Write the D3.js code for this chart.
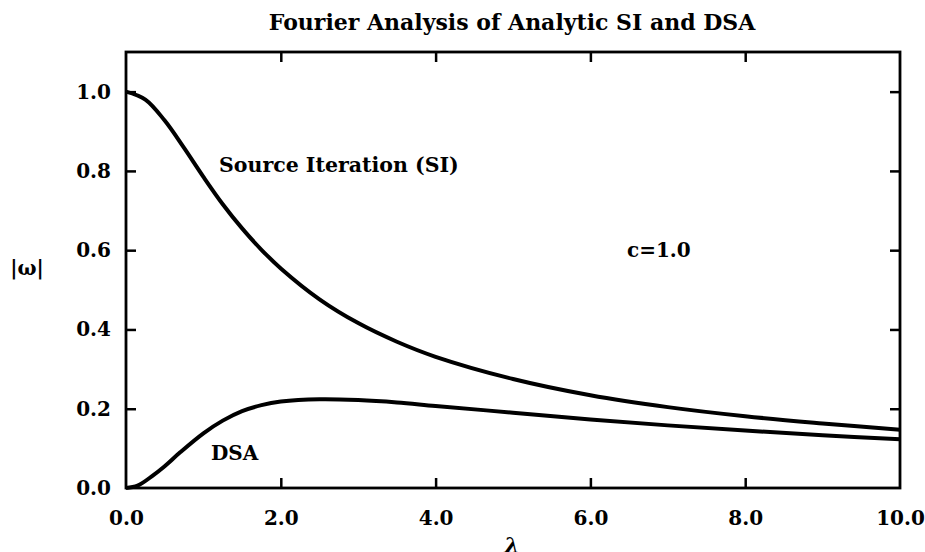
<!DOCTYPE html>
<html>
<head>
<meta charset="utf-8">
<script src="https://cdn.jsdelivr.net/npm/d3@7"></script>
<style>
    body { margin: 0; background: #fff; }
    text { font-family: "DejaVu Serif", serif; font-weight: bold; fill: #000; }
</style>
</head>
<body>
<svg id="chart"></svg>
<script>
// 横轴 λ
var lambdaSI = [0, 0.25, 0.5, 0.75, 1.0, 1.25, 1.5, 1.75, 2.0, 2.5, 3.0, 3.5, 4.0, 5.0, 6.0, 7.0, 8.0, 9.0, 10.0];
// Source Iteration |ω|
var omegaSI = [1.0, 0.98, 0.927, 0.858, 0.785, 0.716, 0.655, 0.601, 0.554, 0.476, 0.416, 0.369, 0.331, 0.275, 0.234, 0.204, 0.181, 0.163, 0.147];
var lambdaDSA = [0, 0.15, 0.35, 0.5, 0.7, 1.0, 1.25, 1.5, 1.75, 2.0, 2.5, 3.0, 3.5, 4.0, 5.0, 6.0, 7.0, 8.0, 9.0, 10.0];
// DSA |ω|
var omegaDSA = [0, 0.006, 0.032, 0.055, 0.09, 0.138, 0.17, 0.194, 0.209, 0.218, 0.224, 0.222, 0.216, 0.207, 0.19, 0.173, 0.158, 0.145, 0.133, 0.123];
// 刻度
var xTicks = [0, 2, 4, 6, 8, 10];
var yTicks = [0, 0.2, 0.4, 0.6, 0.8, 1.0];

var width = 925, height = 552;
var margin = {left: 126, right: 25, top: 52, bottom: 64};

var svg = d3.select('#chart').attr('width', width).attr('height', height);

// 比例尺
var x = d3.scaleLinear().domain([0, 10]).range([margin.left, width - margin.right]);
var y = d3.scaleLinear().domain([0, 1.1]).range([height - margin.bottom, margin.top]);

var fmt = d3.format('.1f');
var tickLen = 10;

// 四边坐标轴, 刻度朝内
var innerX = xTicks.filter(function(d) { return d > 0 && d < 10; });
var innerY = yTicks.filter(function(d) { return d > 0; });

function styleAxis(g) {
    g.select('.domain').remove();
    g.selectAll('line').attr('stroke', '#000').attr('stroke-width', 2.5);
    g.selectAll('text').style('font-size', '20px');
}

svg.append('g')
    .attr('transform', 'translate(0,' + y(0) + ')')
    .call(d3.axisBottom(x).tickValues(xTicks).tickFormat(fmt).tickSize(0).tickPadding(23))
    .call(styleAxis);
svg.append('g')
    .attr('transform', 'translate(0,' + y(0) + ')')
    .call(d3.axisBottom(x).tickValues(innerX).tickFormat('').tickSize(-tickLen))
    .call(styleAxis);
svg.append('g')
    .attr('transform', 'translate(0,' + y(1.1) + ')')
    .call(d3.axisTop(x).tickValues(innerX).tickFormat('').tickSize(-tickLen))
    .call(styleAxis);
svg.append('g')
    .attr('transform', 'translate(' + x(0) + ',0)')
    .call(d3.axisLeft(y).tickValues(yTicks).tickFormat(fmt).tickSize(0).tickPadding(15))
    .call(styleAxis);
svg.append('g')
    .attr('transform', 'translate(' + x(0) + ',0)')
    .call(d3.axisLeft(y).tickValues(innerY).tickFormat('').tickSize(-tickLen))
    .call(styleAxis);
svg.append('g')
    .attr('transform', 'translate(' + x(10) + ',0)')
    .call(d3.axisRight(y).tickValues(innerY).tickFormat('').tickSize(-tickLen))
    .call(styleAxis);

// 边框
svg.append('rect')
    .attr('x', x(0)).attr('y', y(1.1))
    .attr('width', x(10) - x(0)).attr('height', y(0) - y(1.1))
    .attr('fill', 'none').attr('stroke', '#000').attr('stroke-width', 2.8);

// 曲线
var line = d3.line()
    .x(function(d) { return x(d[0]); })
    .y(function(d) { return y(d[1]); })
    .curve(d3.curveCatmullRom.alpha(0.5));

svg.append('path')
    .datum(d3.zip(lambdaSI, omegaSI))
    .attr('fill', 'none').attr('stroke', '#000').attr('stroke-width', 4)
    .attr('d', line);
svg.append('path')
    .datum(d3.zip(lambdaDSA, omegaDSA))
    .attr('fill', 'none').attr('stroke', '#000').attr('stroke-width', 4)
    .attr('d', line);

// 标注
svg.append('text').attr('x', 512).attr('y', 30).attr('text-anchor', 'middle')
    .style('font-size', '22px').text('Fourier Analysis of Analytic SI and DSA');
svg.append('text').attr('x', 219).attr('y', 172).style('font-size', '20.5px').text('Source Iteration (SI)');
svg.append('text').attr('x', 627).attr('y', 257).style('font-size', '20px').text('c=1.0');
svg.append('text').attr('x', 211).attr('y', 460).style('font-size', '20px').text('DSA');
svg.append('text').attr('x', 27).attr('y', 275).attr('text-anchor', 'middle')
    .style('font-size', '20px').text('|ω|');
svg.append('text').attr('x', 512).attr('y', 553).attr('text-anchor', 'middle')
    .style('font-size', '22px').style('font-style', 'italic').text('λ');
</script>
</body>
</html>
